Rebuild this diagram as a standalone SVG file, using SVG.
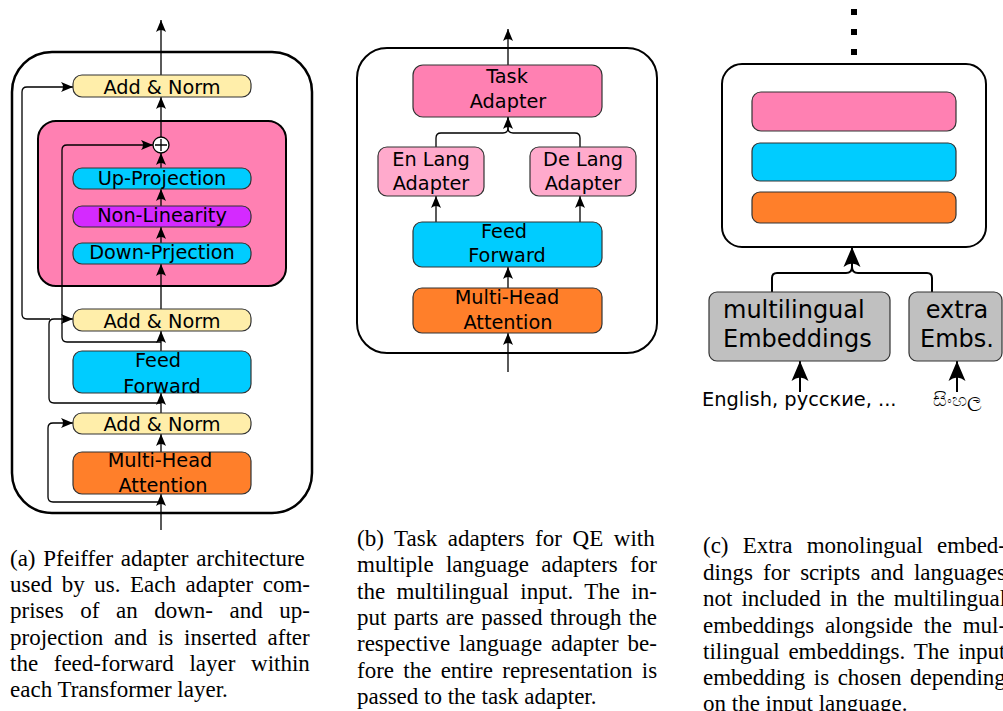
<svg xmlns="http://www.w3.org/2000/svg" width="1003" height="711" viewBox="0 0 1003 711">
  <style>
    .lbl { font-family: "DejaVu Sans", "Noto Sans", sans-serif; font-size: 19.3px; fill: #000; text-anchor: middle; }
    .big { font-family: "DejaVu Sans", "Noto Sans", sans-serif; font-size: 24px; fill: #000; }
    .small { font-family: "DejaVu Sans", "Noto Sans", sans-serif; font-size: 19.4px; fill: #000; }
    .cap { font-family: "Liberation Serif", "Times New Roman", serif; font-size: 23px; fill: #000; }
    .box { stroke: #333; stroke-width: 1.2; }
    .yellow { fill: #ffeeaa; }
    .pink { fill: #ff80b2; }
    .lpink { fill: #ffaacc; }
    .cyan { fill: #00ccff; }
    .purple { fill: #d42aff; }
    .orange { fill: #ff7f2a; }
    .gray { fill: #c0c0c0; }
    .frame { fill: #fff; stroke: #000; }
    .wire { fill: none; stroke: #000; stroke-width: 1.3; }
    .wire-thick { fill: none; stroke: #000; stroke-width: 2; }
  </style>
  <defs>
    <marker id="arr" viewBox="-13 -6 14 12" refX="0" refY="0" markerWidth="14" markerHeight="12" markerUnits="userSpaceOnUse" orient="auto">
      <path d="M0,0 L-12,-5 Q-8,0 -12,5 Z" fill="#000"/>
    </marker>
    <marker id="arrL" viewBox="-22 -10 23 20" refX="0" refY="0" markerWidth="23" markerHeight="20" markerUnits="userSpaceOnUse" orient="auto">
      <path d="M0,0 L-20,-8.5 Q-13,0 -20,8.5 Z" fill="#000"/>
    </marker>
  </defs>

  <!-- ===== (a) Transformer layer with adapter ===== -->
  <g id="a-layer">
    <rect class="frame" x="12" y="52" width="300" height="461" rx="40" stroke-width="2.5"/>
  </g>
  <g id="a-adapter">
    <rect x="38" y="121" width="248" height="165" rx="18" fill="#ff80b2" stroke="#000" stroke-width="2"/>
  </g>

  <g id="a-connectors">
    <!-- main path -->
    <path class="wire" d="M161,530 V494" marker-end="url(#arr)"/>
    <path class="wire" d="M161,452 V434" marker-end="url(#arr)"/>
    <path class="wire" d="M161,413 V393" marker-end="url(#arr)"/>
    <path class="wire" d="M161,351 V331" marker-end="url(#arr)"/>
    <path class="wire" d="M161,309 V264" marker-end="url(#arr)"/>
    <path class="wire" d="M161,243 V227" marker-end="url(#arr)"/>
    <path class="wire" d="M161,206 V189" marker-end="url(#arr)"/>
    <path class="wire" d="M161,168 V153" marker-end="url(#arr)"/>
    <path class="wire" d="M161,137 V97" marker-end="url(#arr)"/>
    <path class="wire" d="M161,75 V20" marker-end="url(#arr)"/>
    <!-- residual connections -->
    <path class="wire" d="M161,502 H53 Q48,502 48,497 V428 Q48,423 53,423 H73" marker-end="url(#arr)"/>
    <path class="wire" d="M161,403 H54 Q49,403 49,398 V324 Q49,319 54,319 H73" marker-end="url(#arr)"/>
    <path class="wire" d="M50,319 H27 Q22,319 22,314 V92 Q22,87 27,87 H73" marker-end="url(#arr)"/>
    <path class="wire" d="M161,342 H67 Q62,342 62,337 V150 Q62,145 67,145 H153" marker-end="url(#arr)"/>
  </g>

  <g id="a-add-norm-top">
    <rect class="box yellow" x="73" y="75" width="178" height="22" rx="9"/>
    <text class="lbl" x="162" y="94">Add &amp; Norm</text>
  </g>
  <g id="a-sum">
    <circle cx="161" cy="145" r="8" fill="#fff" stroke="#000" stroke-width="1.3"/>
    <path d="M155,145 H167 M161,139 V151" stroke="#000" stroke-width="1.3"/>
  </g>
  <g id="a-up">
    <rect class="box cyan" x="73" y="168" width="178" height="21" rx="9"/>
    <text class="lbl" x="162" y="185">Up-Projection</text>
  </g>
  <g id="a-nonlin">
    <rect class="box purple" x="73" y="206" width="178" height="21" rx="9"/>
    <text class="lbl" x="162" y="222">Non-Linearity</text>
  </g>
  <g id="a-down">
    <rect class="box cyan" x="73" y="243" width="178" height="21" rx="9"/>
    <text class="lbl" x="162" y="259">Down-Prjection</text>
  </g>
  <g id="a-add-norm-mid">
    <rect class="box yellow" x="73" y="309" width="178" height="22" rx="9"/>
    <text class="lbl" x="162" y="328">Add &amp; Norm</text>
  </g>
  <g id="a-ff">
    <rect class="box cyan" x="73" y="351" width="178" height="42" rx="9"/>
    <text class="lbl" x="158" y="367">Feed</text>
    <text class="lbl" x="162" y="393">Forward</text>
  </g>
  <g id="a-add-norm-low">
    <rect class="box yellow" x="73" y="413" width="178" height="21" rx="9"/>
    <text class="lbl" x="162" y="431">Add &amp; Norm</text>
  </g>
  <g id="a-mha">
    <rect class="box orange" x="73" y="452" width="178" height="42" rx="9"/>
    <text class="lbl" x="160" y="467">Multi-Head</text>
    <text class="lbl" x="163" y="492">Attention</text>
  </g>

  <!-- ===== (b) Task adapter over language adapters ===== -->
  <g id="b-layer">
    <rect class="frame" x="357" y="48" width="300" height="305" rx="30" stroke-width="2"/>
  </g>
  <g id="b-connectors">
    <path class="wire" d="M508,372 V333" marker-end="url(#arr)"/>
    <path class="wire" d="M508,288 V267" marker-end="url(#arr)"/>
    <path class="wire" d="M436,222 V196" marker-end="url(#arr)"/>
    <path class="wire" d="M580,222 V196" marker-end="url(#arr)"/>
    <path class="wire" d="M436,147 V138 Q436,133 441,133 H503 Q508,133 508,128 V117" marker-end="url(#arr)"/>
    <path class="wire" d="M580,147 V138 Q580,133 575,133 H513 Q508,133 508,128 V117"/>
    <path class="wire" d="M508,65 V29" marker-end="url(#arr)"/>
  </g>
  <g id="b-task">
    <rect class="box pink" x="413" y="65" width="189" height="52" rx="10"/>
    <text class="lbl" x="507" y="83">Task</text>
    <text class="lbl" x="508" y="108">Adapter</text>
  </g>
  <g id="b-en">
    <rect class="box lpink" x="378" y="147" width="106" height="49" rx="9"/>
    <text class="lbl" x="431" y="166">En Lang</text>
    <text class="lbl" x="431" y="190">Adapter</text>
  </g>
  <g id="b-de">
    <rect class="box lpink" x="530" y="147" width="106" height="49" rx="9"/>
    <text class="lbl" x="583" y="166">De Lang</text>
    <text class="lbl" x="583" y="190">Adapter</text>
  </g>
  <g id="b-ff">
    <rect class="box cyan" x="413" y="222" width="189" height="45" rx="9"/>
    <text class="lbl" x="504" y="238">Feed</text>
    <text class="lbl" x="507" y="262">Forward</text>
  </g>
  <g id="b-mha">
    <rect class="box orange" x="413" y="288" width="189" height="45" rx="9"/>
    <text class="lbl" x="507" y="304">Multi-Head</text>
    <text class="lbl" x="508" y="329">Attention</text>
  </g>

  <!-- ===== (c) Extra embeddings ===== -->
  <g id="c-ellipsis">
    <rect x="851" y="9" width="6" height="6" fill="#000"/>
    <rect x="851" y="29" width="6" height="6" fill="#000"/>
    <rect x="851" y="49" width="6" height="6" fill="#000"/>
  </g>
  <g id="c-layer">
    <rect class="frame" x="722" y="64" width="264" height="183" rx="20" stroke-width="2"/>
    <rect class="box pink" x="752" y="92" width="204" height="39" rx="9"/>
    <rect class="box cyan" x="752" y="143" width="204" height="38" rx="8"/>
    <rect class="box orange" x="752" y="192" width="204" height="31" rx="8"/>
  </g>
  <g id="c-connectors">
    <path class="wire-thick" d="M772,292 V278 Q772,273 777,273 H846 Q852,273 852,267 V247" marker-end="url(#arrL)"/>
    <path class="wire-thick" d="M932,292 V278 Q932,273 927,273 H858 Q852,273 852,267 V250"/>
    <path class="wire-thick" d="M800,392 V361" marker-end="url(#arrL)"/>
    <path class="wire-thick" d="M957,392 V361" marker-end="url(#arrL)"/>
  </g>
  <g id="c-multi">
    <rect class="box gray" x="709" y="292" width="181" height="69" rx="8"/>
    <text class="big" x="723" y="318">multilingual</text>
    <text class="big" x="723" y="347">Embeddings</text>
  </g>
  <g id="c-extra">
    <rect class="box gray" x="909" y="292" width="93" height="69" rx="8"/>
    <text class="big" x="957" y="318" text-anchor="middle">extra</text>
    <text class="big" x="957" y="347" text-anchor="middle">Embs.</text>
  </g>
  <g id="c-inputs">
    <text class="small" x="702" y="406">English, русские, ...</text>
    <text class="small" x="957" y="406" text-anchor="middle">සිංහල</text>
  </g>

  <!-- ===== captions (justified by per-line word spacing) ===== -->
  <g id="caption-a" class="cap">
    <text x="10" y="566" word-spacing="2">(a) Pfeiffer adapter architecture</text>
    <text x="10" y="592" word-spacing="3.8">used by us. Each adapter com-</text>
    <text x="10" y="618" word-spacing="10.8">prises of an down- and up-</text>
    <text x="10" y="645" word-spacing="5">projection and is inserted after</text>
    <text x="10" y="671" word-spacing="9.9">the feed-forward layer within</text>
    <text x="10" y="697">each Transformer layer.</text>
  </g>
  <g id="caption-b" class="cap">
    <text x="357" y="546" word-spacing="4.9">(b) Task adapters for QE with</text>
    <text x="357" y="572" word-spacing="6.5">multiple language adapters for</text>
    <text x="357" y="599" word-spacing="5.6">the multilingual input. The in-</text>
    <text x="357" y="625" word-spacing="1.6">put parts are passed through the</text>
    <text x="357" y="651" word-spacing="3.1">respective language adapter be-</text>
    <text x="357" y="678" word-spacing="3.5">fore the entire representation is</text>
    <text x="357" y="704">passed to the task adapter.</text>
  </g>
  <g id="caption-c" class="cap">
    <text x="703" y="553" word-spacing="8.4">(c) Extra monolingual embed-</text>
    <text x="703" y="580" word-spacing="4.5">dings for scripts and languages</text>
    <text x="703" y="606" word-spacing="3.3">not included in the multilingual</text>
    <text x="703" y="633" word-spacing="5">embeddings alongside the mul-</text>
    <text x="703" y="659" word-spacing="3">tilingual embeddings. The input</text>
    <text x="703" y="685" word-spacing="2.8">embedding is chosen depending</text>
    <text x="703" y="711">on the input language.</text>
  </g>
</svg>
